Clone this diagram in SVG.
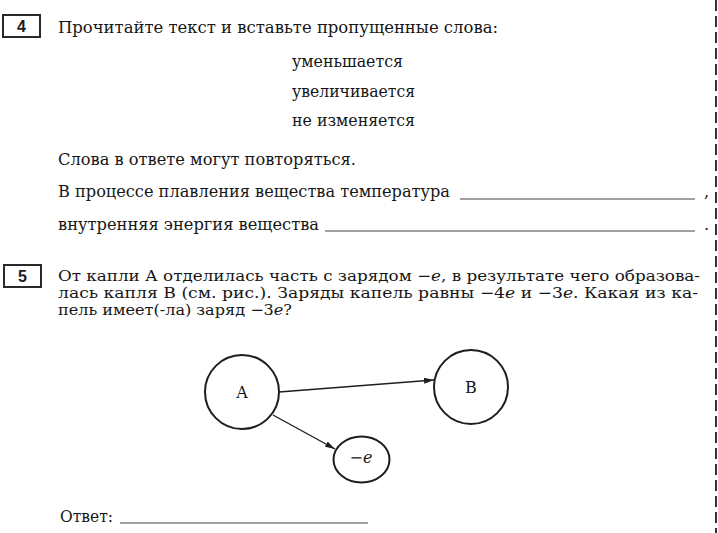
<svg xmlns="http://www.w3.org/2000/svg" width="718" height="533" viewBox="0 0 718 533">
<style>
.t{font-family:"DejaVu Serif","Liberation Serif",serif;font-size:16px;fill:#161616}
.s{font-size:14.6px}
.i{font-style:italic}
.num{font-family:"Liberation Sans",Arial,sans-serif;font-weight:bold;font-size:16px;fill:#1e1e1e}
.box{fill:none;stroke:#2a2a2a;stroke-width:2}
.ul{stroke:#444;stroke-width:1.2}
.node{fill:#fff;stroke:#1e1e1e;stroke-width:2}
.edge{stroke:#1e1e1e;stroke-width:1.4;fill:none}
</style>
<defs>
<marker id="arr" viewBox="0 0 10 6" refX="10" refY="3" markerWidth="10" markerHeight="6" markerUnits="userSpaceOnUse" orient="auto">
<path d="M0,0 L10,3 L0,6 z" fill="#1e1e1e"/>
</marker>
</defs>
<rect width="718" height="533" fill="#fff"/>
<line x1="716" y1="0" x2="716" y2="533" stroke="#333" stroke-width="2" stroke-dasharray="11 5"/>

<g id="task4">
<rect class="box" x="3" y="15" width="37" height="22"/>
<text class="num" x="21.5" y="32" text-anchor="middle">4</text>
<text class="t" x="58" y="33" textLength="440" lengthAdjust="spacingAndGlyphs">Прочитайте текст и вставьте пропущенные слова:</text>
<text class="t" x="292" y="67" textLength="111" lengthAdjust="spacingAndGlyphs">уменьшается</text>
<text class="t" x="292" y="97" textLength="123" lengthAdjust="spacingAndGlyphs">увеличивается</text>
<text class="t" x="292" y="126" textLength="123" lengthAdjust="spacingAndGlyphs">не изменяется</text>
<text class="t" x="58" y="165" textLength="298" lengthAdjust="spacingAndGlyphs">Слова в ответе могут повторяться.</text>
<text class="t" x="58" y="197" textLength="392" lengthAdjust="spacingAndGlyphs">В процессе плавления вещества температура</text>
<line class="ul" x1="460" y1="199" x2="695" y2="199"/>
<text class="t" x="704" y="197">,</text>
<text class="t" x="58" y="230" textLength="261" lengthAdjust="spacingAndGlyphs">внутренняя энергия вещества</text>
<line class="ul" x1="325" y1="231" x2="695" y2="231"/>
<text class="t" x="704" y="230">.</text>
</g>

<g id="task5">
<rect class="box" x="4" y="265" width="37" height="22"/>
<text class="num" x="22.5" y="282" text-anchor="middle">5</text>
<text class="t s" x="58" y="281" textLength="642" lengthAdjust="spacingAndGlyphs">От капли А отделилась часть с зарядом −<tspan class="i">e</tspan>, в результате чего образова-</text>
<text class="t s" x="58" y="298" textLength="640" lengthAdjust="spacingAndGlyphs">лась капля В (см. рис.). Заряды капель равны −4<tspan class="i">e</tspan> и −3<tspan class="i">e</tspan>. Какая из ка-</text>
<text class="t s" x="58" y="315" textLength="234" lengthAdjust="spacingAndGlyphs">пель имеет(-ла) заряд −3<tspan class="i">e</tspan>?</text>
</g>

<g id="connectors">
<line class="edge" x1="279" y1="392" x2="434" y2="380" marker-end="url(#arr)"/>
<line class="edge" x1="273" y1="415" x2="335" y2="449" marker-end="url(#arr)"/>
</g>

<g id="node-A">
<circle class="node" cx="242" cy="392" r="37"/>
<text class="t" x="242" y="398" text-anchor="middle">А</text>
</g>
<g id="node-B">
<circle class="node" cx="471" cy="387" r="37"/>
<text class="t" x="471" y="393" text-anchor="middle">В</text>
</g>
<g id="node-e">
<ellipse class="node" cx="361.5" cy="459.5" rx="28" ry="23"/>
<text class="t" x="361" y="463" text-anchor="middle">−<tspan class="i">e</tspan></text>
</g>

<g id="answer">
<text class="t" x="60" y="522" textLength="53" lengthAdjust="spacingAndGlyphs">Ответ:</text>
<line class="ul" x1="120" y1="523" x2="368" y2="523"/>
</g>
</svg>
